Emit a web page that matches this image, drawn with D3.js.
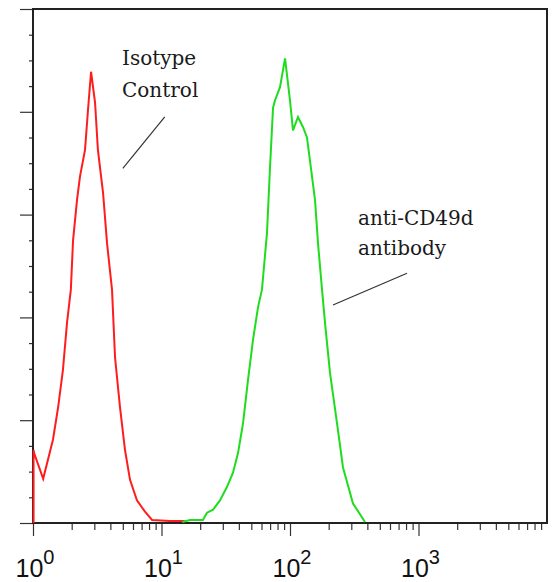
<!DOCTYPE html>
<html>
<head>
<meta charset="utf-8">
<script src="https://cdn.jsdelivr.net/npm/d3@7"></script>
<style>
  body { margin: 0; background: #fff; }
</style>
</head>
<body>
<svg></svg>
<script>
// fluorescence intensity (log axis) and event counts
var isoX = [1.01, 1.01, 1.02, 1.20, 1.43, 1.57, 1.71, 1.84, 1.97, 2.05, 2.20, 2.32, 2.54, 2.68, 2.83, 3.04, 3.20, 3.51, 3.77, 4.12, 4.35, 4.75, 5.20, 5.69, 6.44, 7.44, 8.44, 11.6, 15.2];
var isoY = [0, 71, 68, 43, 81, 113, 149, 195, 227, 275, 314, 337, 363, 402, 439, 409, 363, 321, 272, 227, 161, 113, 71, 42, 22, 11, 3, 2, 2];

var cdX = [14.5, 16.7, 21.0, 22.6, 25.2, 28.5, 32.3, 36.0, 39.4, 43.1, 47.1, 51.5, 56.4, 60.5, 66.2, 69.9, 73.8, 76.4, 83.6, 91.5, 100, 105.5, 115.4, 126.3, 135.6, 148.4, 156.6, 165.2, 177.5, 187.2, 204.8, 232.3, 258.5, 309.2, 383.4];
var cdY = [1, 3, 3, 10, 13, 22, 35, 49, 68, 97, 139, 178, 210, 227, 282, 346, 404, 411, 424, 452, 411, 382, 395, 385, 375, 337, 314, 272, 227, 195, 146, 97, 54, 19, 1];

var decades = [1, 10, 100, 1000];
var decadeExp = ["0", "1", "2", "3"];

var labels = [
  { lines: ["Isotype", "Control"], x: 4.93, y: [446, 414], from: [10.6, 395], to: [5.0, 345] },
  { lines: ["anti-CD49d", "antibody"], x: 338, y: [290, 261], from: [814, 243], to: [216, 212] }
];

var width = 553, height = 582;
var margin = { left: 33, top: 9, right: 6, bottom: 59 };

var svg = d3.select("svg")
            .attr("width", width)
            .attr("height", height);

var xscale = d3.scaleLog()
               .domain([1, 10000])
               .range([margin.left, width - margin.right]);

var yscale = d3.scaleLinear()
               .domain([0, 500])
               .range([height - margin.bottom, margin.top]);

// y ticks, outside left
var yMinor = d3.range(0, 501, 25).filter(function(d) { return d % 100 !== 0; });
var yMajor = d3.range(0, 501, 100);

svg.append("g")
   .attr("transform", "translate(" + margin.left + ",0)")
   .call(d3.axisLeft(yscale).tickValues(yMinor).tickSize(4).tickFormat(""))
   .call(function(g) { g.select(".domain").remove(); });
svg.append("g")
   .attr("transform", "translate(" + margin.left + ",0)")
   .call(d3.axisLeft(yscale).tickValues(yMajor).tickSize(13).tickFormat(""))
   .call(function(g) { g.select(".domain").remove(); });

// x ticks, below
var xMinor = [];
decades.forEach(function(d) {
  for (var k = 2; k <= 9; k++) xMinor.push(d * k);
});

var y0 = yscale(0);
svg.append("g")
   .attr("transform", "translate(0," + y0 + ")")
   .call(d3.axisBottom(xscale).tickValues(xMinor).tickSize(7).tickFormat(""))
   .call(function(g) { g.select(".domain").remove(); });
svg.append("g")
   .attr("transform", "translate(0," + y0 + ")")
   .call(d3.axisBottom(xscale).tickValues(decades).tickSize(13).tickFormat(""))
   .call(function(g) { g.select(".domain").remove(); });

svg.selectAll(".tick line").attr("stroke", "#333").attr("stroke-width", 1.2);

// tick labels 10^n
var tl = svg.append("g")
   .selectAll("text")
   .data(decades)
   .enter()
   .append("text")
   .attr("x", function(d) { return xscale(d) + 2; })
   .attr("y", 577)
   .attr("text-anchor", "middle")
   .attr("font-family", "Liberation Sans, Arial, sans-serif")
   .attr("font-size", 25)
   .attr("fill", "#111");
tl.append("tspan").text("10");
tl.append("tspan")
  .attr("font-size", 20)
  .attr("dy", -13)
  .text(function(d, i) { return decadeExp[i]; });

// frame
svg.append("rect")
   .attr("x", xscale(1))
   .attr("y", yscale(500))
   .attr("width", xscale(10000) - xscale(1))
   .attr("height", yscale(0) - yscale(500))
   .attr("fill", "none")
   .attr("stroke", "#222")
   .attr("stroke-width", 2);

// curves
var line = d3.line()
             .x(function(d) { return xscale(d[0]); })
             .y(function(d) { return yscale(d[1]); });

svg.append("path")
   .datum(d3.zip(isoX, isoY))
   .attr("d", line)
   .attr("fill", "none")
   .attr("stroke", "#ff1c1c")
   .attr("stroke-width", 2);

svg.append("path")
   .datum(d3.zip(cdX, cdY))
   .attr("d", line)
   .attr("fill", "none")
   .attr("stroke", "#1fdc1f")
   .attr("stroke-width", 2);

// annotations
labels.forEach(function(a) {
  a.lines.forEach(function(t, i) {
    svg.append("text")
       .attr("x", xscale(a.x))
       .attr("y", yscale(a.y[i]))
       .attr("font-family", "DejaVu Serif, serif")
       .attr("font-size", 20)
       .attr("fill", "#1a1a1a")
       .text(t);
  });
  svg.append("line")
     .attr("x1", xscale(a.from[0]))
     .attr("y1", yscale(a.from[1]))
     .attr("x2", xscale(a.to[0]))
     .attr("y2", yscale(a.to[1]))
     .attr("stroke", "#333")
     .attr("stroke-width", 1.2);
});
</script>
</body>
</html>
